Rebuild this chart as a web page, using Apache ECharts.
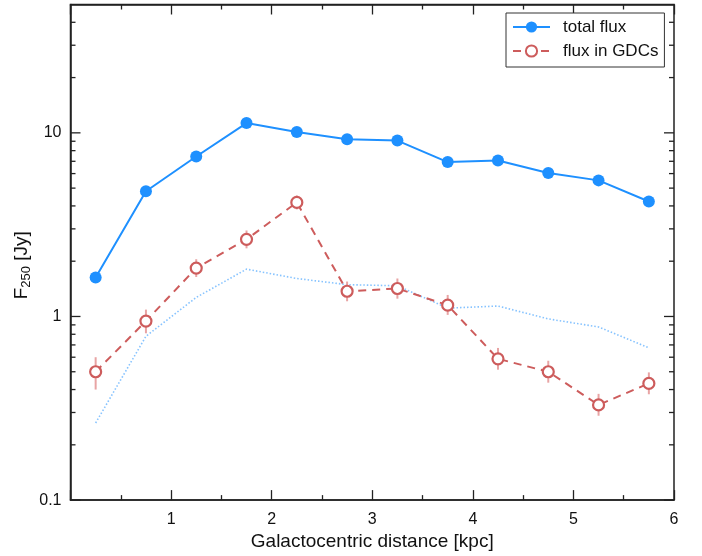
<!DOCTYPE html>
<html><head><meta charset="utf-8">
<script src="https://cdn.jsdelivr.net/npm/echarts@6/dist/echarts.min.js"></script>
<style>html,body{margin:0;padding:0;background:#fff}#c{width:702px;height:556px}</style>
</head><body><div id="c"></div>
<script>
const distance = [0.25, 0.75, 1.25, 1.75, 2.25, 2.75, 3.25, 3.75, 4.25, 4.75, 5.25, 5.75];
const totalFlux = [1.63, 4.81, 7.43, 11.3, 10.1, 9.23, 9.08, 6.93, 7.07, 6.04, 5.51, 4.23];
const gdcFlux = [0.50, 0.944, 1.835, 2.63, 4.18, 1.372, 1.42, 1.152, 0.588, 0.50, 0.33, 0.432];
const gdcLow = [0.40, 0.81, 1.64, 2.35, 3.83, 1.21, 1.25, 1.02, 0.513, 0.436, 0.288, 0.377];
const gdcHigh = [0.60, 1.09, 2.05, 2.94, 4.56, 1.55, 1.61, 1.31, 0.674, 0.574, 0.379, 0.496];
const dottedFlux = [0.263, 0.78, 1.27, 1.81, 1.61, 1.49, 1.47, 1.11, 1.14, 0.97, 0.877, 0.675];
const xTickLabels = ['1', '2', '3', '4', '5', '6'];
const yTickLabels = ['0.1', '1', '10'];
const yMajorTicks = [0.1, 1, 10];
const yMinorTicks = [0.2, 0.3, 0.4, 0.5, 0.6, 0.7, 0.8, 0.9, 2, 3, 4, 5, 6, 7, 8, 9, 20, 30, 40];
const xMin = 0, xMax = 6, yMin = 0.1, yMax = 50;

const FONT = 'Liberation Sans, Arial, Helvetica, sans-serif';
const AX = '#222';
const BLUE = '#1e90ff';
const RED = '#cd5c5c';

function tickSeries(values, len) {
  return {
    type: 'custom', silent: true, z: 6, clip: false,
    data: values.map(v => [xMin, v]),
    encode: { x: 0, y: 1 },
    renderItem: function (params, api) {
      const v = api.value(1);
      const l = api.coord([xMin, v]);
      const r = api.coord([xMax, v]);
      const st = { stroke: AX, lineWidth: 1.3 };
      return { type: 'group', children: [
        { type: 'line', shape: { x1: l[0], y1: l[1], x2: l[0] + len, y2: l[1] }, style: st },
        { type: 'line', shape: { x1: r[0], y1: r[1], x2: r[0] - len, y2: r[1] }, style: st }
      ]};
    }
  };
}

const chart = echarts.init(document.getElementById('c'));
chart.setOption({
  animation: false,
  backgroundColor: '#fff',
  textStyle: { fontFamily: FONT },
  grid: { left: 70.5, right: 28, top: 4.5, bottom: 54, show: true, borderColor: AX, borderWidth: 1.5, backgroundColor: 'transparent' },
  legend: {
    data: ['total flux', 'flux in GDCs'],
    orient: 'vertical', left: 506, top: 13,
    padding: [4, 6, 6, 6], itemGap: 4,
    itemWidth: 37, itemHeight: 14,
    borderColor: '#333', borderWidth: 1, backgroundColor: '#fff',
    textStyle: { fontSize: 17, color: '#111', fontFamily: FONT, lineHeight: 20, padding: [0, 0, 0, 8] }
  },
  xAxis: [{
    type: 'value', min: xMin, max: xMax, interval: 1, position: 'bottom',
    axisLine: { show: true, onZero: false, lineStyle: { color: AX, width: 1.5 } },
    axisTick: { show: true, inside: true, length: 10, lineStyle: { color: AX, width: 1.3 } },
    minorTick: { show: true, splitNumber: 2, length: 5, lineStyle: { color: AX, width: 1.3 } },
    splitLine: { show: false },
    axisLabel: { fontSize: 16, color: '#111', margin: 11, fontFamily: FONT,
      formatter: v => xTickLabels.indexOf(String(v)) >= 0 ? String(v) : '' },
    name: 'Galactocentric distance [kpc]', nameLocation: 'middle', nameGap: 28,
    nameTextStyle: { fontSize: 19, color: '#111', fontFamily: FONT }
  }, {
    type: 'value', min: xMin, max: xMax, interval: 1, position: 'top',
    axisLine: { show: true, onZero: false, lineStyle: { color: AX, width: 1.5 } },
    axisTick: { show: true, inside: true, length: 10, lineStyle: { color: AX, width: 1.3 } },
    minorTick: { show: true, splitNumber: 2, length: 5, lineStyle: { color: AX, width: 1.3 } },
    splitLine: { show: false }, axisLabel: { show: false }
  }],
  yAxis: [{
    type: 'log', logBase: 10, min: yMin, max: yMax, position: 'left',
    axisLine: { show: true, onZero: false, lineStyle: { color: AX, width: 1.5 } },
    axisTick: { show: false },
    splitLine: { show: false },
    axisLabel: { fontSize: 16, color: '#111', margin: 9, fontFamily: FONT, showMaxLabel: false,
      formatter: v => { const s = String(Number(Number(v).toPrecision(6))); return yTickLabels.indexOf(s) >= 0 ? s : ''; } },
    name: '{m|F}{s|250}{m| [Jy]}', nameLocation: 'middle', nameGap: 38, nameRotate: 90,
    nameMoveOverlap: false,
    nameTextStyle: { padding: [0, 26, 0, 0], rich: {
      m: { fontSize: 19, color: '#111', fontFamily: FONT, lineHeight: 22 },
      s: { fontSize: 13, color: '#111', fontFamily: FONT, lineHeight: 12, verticalAlign: 'bottom' }
    } }
  }],
  series: [
    tickSeries(yMajorTicks, 10),
    tickSeries(yMinorTicks, 5),
    {
      name: 'dotted', type: 'line', data: distance.map((x, i) => [x, dottedFlux[i]]),
      showSymbol: false, symbol: 'none', z: 2,
      lineStyle: { color: '#86c3ff', width: 1.6, type: [1.5, 2] }
    },
    {
      name: 'total flux', type: 'line', data: distance.map((x, i) => [x, totalFlux[i]]),
      symbol: 'circle', symbolSize: 12, z: 4,
      itemStyle: { color: BLUE },
      lineStyle: { color: BLUE, width: 2 }
    },
    {
      name: 'errors', type: 'custom', silent: true, z: 3,
      data: distance.map((x, i) => [x, gdcLow[i], gdcHigh[i]]),
      encode: { x: 0, y: [1, 2] },
      renderItem: function (params, api) {
        const lo = api.coord([api.value(0), api.value(1)]);
        const hi = api.coord([api.value(0), api.value(2)]);
        return { type: 'line', shape: { x1: lo[0], y1: lo[1], x2: hi[0], y2: hi[1] },
          style: { stroke: '#e8a4a4', lineWidth: 2 } };
      }
    },
    {
      name: 'flux in GDCs', type: 'line', data: distance.map((x, i) => [x, gdcFlux[i]]),
      symbol: 'circle', symbolSize: 11, z: 5,
      itemStyle: { color: '#fff', borderColor: RED, borderWidth: 2.2 },
      lineStyle: { color: RED, width: 2, type: [8, 6] }
    }
  ]
});
</script></body></html>
